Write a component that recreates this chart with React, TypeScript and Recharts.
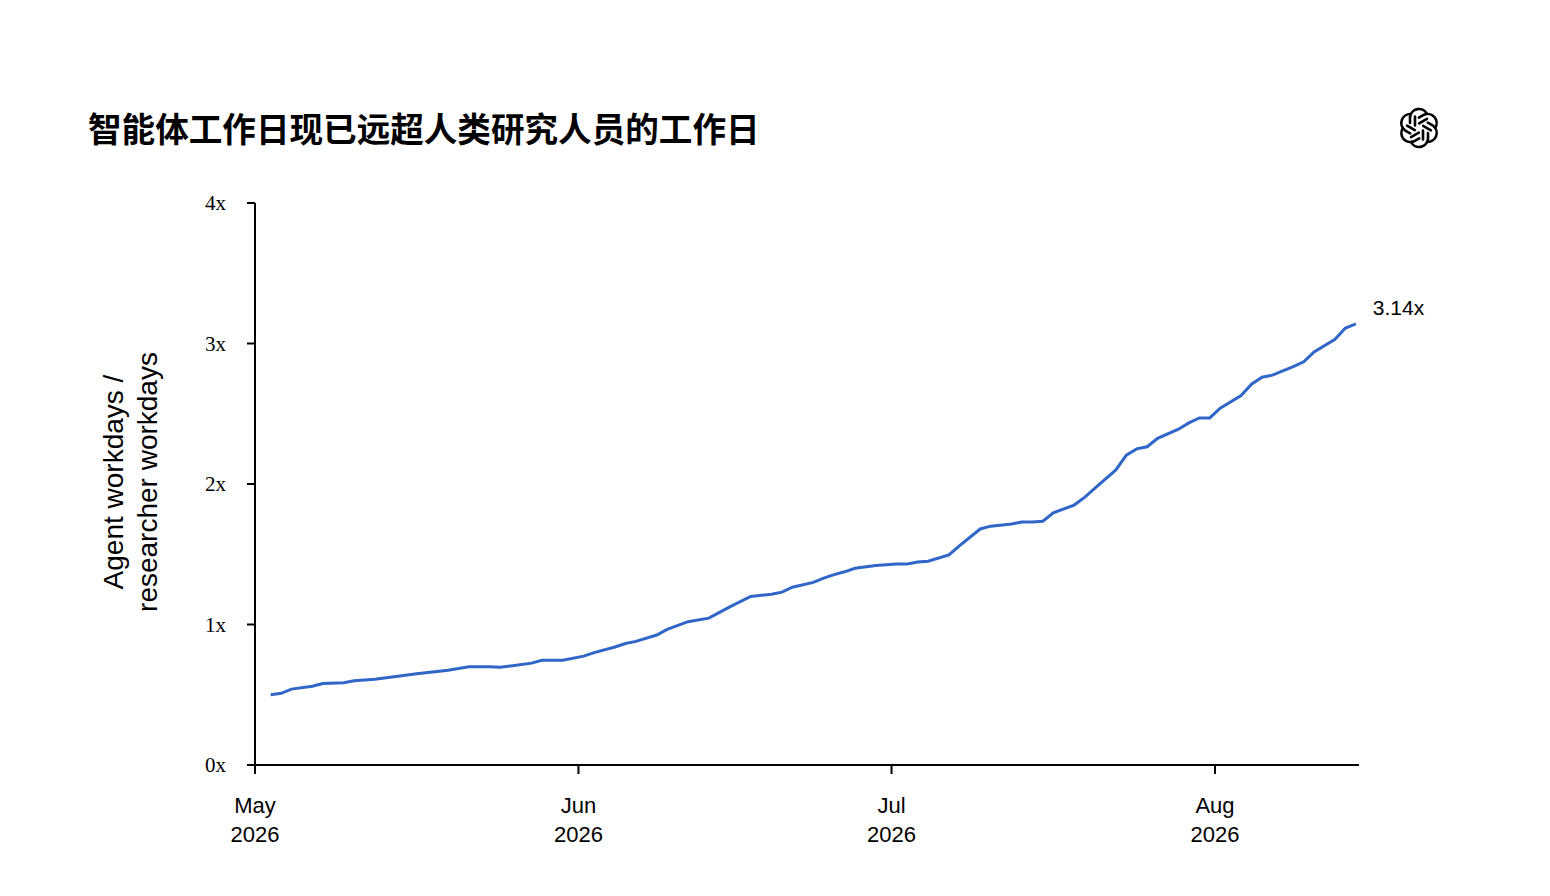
import React from "react"
import { Line, LineChart, XAxis, YAxis } from "recharts"

const dates = [
  "05-02", "05-03", "05-04", "05-06", "05-07", "05-09", "05-10", "05-12", "05-14", "05-16",
  "05-19", "05-21", "05-23", "05-24", "05-25", "05-27", "05-28", "05-30", "06-01", "06-02",
  "06-04", "06-05", "06-06", "06-08", "06-09", "06-11", "06-13", "06-15", "06-17", "06-19",
  "06-20", "06-21", "06-23", "06-24", "06-25", "06-26", "06-27", "06-29", "07-01", "07-02",
  "07-03", "07-04", "07-06", "07-07", "07-09", "07-10", "07-12", "07-13", "07-14", "07-15",
  "07-16", "07-18", "07-19", "07-20", "07-22", "07-23", "07-24", "07-25", "07-26", "07-28",
  "07-29", "07-30", "07-31", "08-01", "08-03", "08-04", "08-05", "08-06", "08-07", "08-08",
  "08-09", "08-10", "08-12", "08-13", "08-14",
]

const ratio = [
  0.5, 0.51, 0.54, 0.56, 0.58, 0.585, 0.6, 0.61, 0.63, 0.65,
  0.675, 0.7, 0.7, 0.695, 0.705, 0.725, 0.745, 0.745, 0.775, 0.8,
  0.84, 0.865, 0.88, 0.925, 0.965, 1.02, 1.045, 1.125, 1.2, 1.215,
  1.23, 1.265, 1.3, 1.33, 1.355, 1.375, 1.4, 1.42, 1.43, 1.43,
  1.445, 1.45, 1.495, 1.56, 1.68, 1.7, 1.715, 1.73, 1.73, 1.735,
  1.795, 1.85, 1.905, 1.97, 2.1, 2.205, 2.25, 2.265, 2.325, 2.39,
  2.435, 2.47, 2.47, 2.54, 2.63, 2.71, 2.76, 2.775, 2.805, 2.835,
  2.87, 2.94, 3.03, 3.11, 3.14,
]

const monthTicks = ["05-01", "06-01", "07-01", "08-01"]
const monthLabels = ["May", "Jun", "Jul", "Aug"]
const yearLabel = "2026"
const yTicks = [0, 1, 2, 3, 4]

const title = "智能体工作日现已远超人类研究人员的工作日"
const yLabelLines = ["Agent workdays /", "researcher workdays"]

const DAY = 86400000
const start = Date.UTC(2026, 4, 1)
function dayOf(md: string) {
  const [m, d] = md.split("-").map(Number)
  return (Date.UTC(2026, m - 1, d) - start) / DAY
}

// points sit at midday
const data = dates.map((d, i) => ({ t: dayOf(d) + 0.5, v: ratio[i] }))
const xTicks = monthTicks.map(dayOf)

const SANS = '"Liberation Sans", Arial, sans-serif'
const SERIF = '"Liberation Serif", "Times New Roman", serif'
const BLUE = "#2f66c8"

function MonthTick(props: any) {
  const { x, payload } = props
  const idx = xTicks.indexOf(payload.value)
  return (
    <text x={x} y={813} textAnchor="middle" fontFamily={SANS} fontSize={22} fill="#000">
      <tspan x={x}>{monthLabels[idx]}</tspan>
      <tspan x={x} dy={29}>{yearLabel}</tspan>
    </text>
  )
}

function EndLabel(props: any) {
  const { x, y, index } = props
  if (index !== data.length - 1) return null
  return (
    <text x={x + 17} y={y - 9} fontFamily={SANS} fontSize={21} fill="#000">
      {ratio[ratio.length - 1].toFixed(2)}x
    </text>
  )
}

function Logo() {
  const petals = [0, 60, 120, 180, 240, 300]
  return (
    <svg width={44} height={44} viewBox="-22 -22 44 44" style={{ position: "absolute", left: 1397, top: 106 }}>
      {petals.map((a) => (
        <path
          key={a}
          transform={`rotate(${a})`}
          d="M -9 -5 L -9 -11 A 9 9 0 0 1 8 -14 M -4 -2.5 L -4 -11.5"
          fill="none"
          stroke="#000"
          strokeWidth={2.6}
          strokeLinecap="round"
        />
      ))}
    </svg>
  )
}

export default function App() {
  return (
    <div style={{ position: "relative", width: 1550, height: 896, background: "#fff" }}>
      <style>{`body{margin:0}`}</style>
      <div
        style={{
          position: "absolute",
          left: 88,
          top: 104,
          fontFamily: '"Noto Sans CJK SC", sans-serif',
          fontWeight: 700,
          fontSize: 33.6,
          lineHeight: "48px",
          color: "#000",
          whiteSpace: "nowrap",
        }}
      >
        {title}
      </div>
      <Logo />
      <LineChart
        width={1550}
        height={896}
        data={data}
        margin={{ top: 203, right: 191, bottom: 51, left: 195 }}
      >
        <XAxis
          dataKey="t"
          type="number"
          domain={[0, 105.8]}
          ticks={xTicks}
          interval={0}
          tick={<MonthTick />}
          tickSize={9}
          height={80}
          axisLine={{ stroke: "#000", strokeWidth: 2 }}
          tickLine={{ stroke: "#000", strokeWidth: 2 }}
        />
        <YAxis
          type="number"
          domain={[0, 4]}
          ticks={yTicks}
          interval={0}
          width={60}
          tickSize={8}
          tickMargin={21}
          tickFormatter={(v: number) => `${v}x`}
          tick={{ fontFamily: SERIF, fontSize: 21, fill: "#000" }}
          axisLine={{ stroke: "#000", strokeWidth: 2 }}
          tickLine={{ stroke: "#000", strokeWidth: 2 }}
          label={{
            content: () => (
              <text
                transform="translate(131 482) rotate(-90)"
                textAnchor="middle"
                fontFamily={SANS}
                fontSize={28}
                fill="#000"
              >
                <tspan x={0} dy={-8}>{yLabelLines[0]}</tspan>
                <tspan x={0} dy={34}>{yLabelLines[1]}</tspan>
              </text>
            ),
          }}
        />
        <Line
          dataKey="v"
          type="linear"
          stroke={BLUE}
          strokeWidth={3}
          dot={false}
          isAnimationActive={false}
          label={<EndLabel />}
        />
      </LineChart>
    </div>
  )
}
